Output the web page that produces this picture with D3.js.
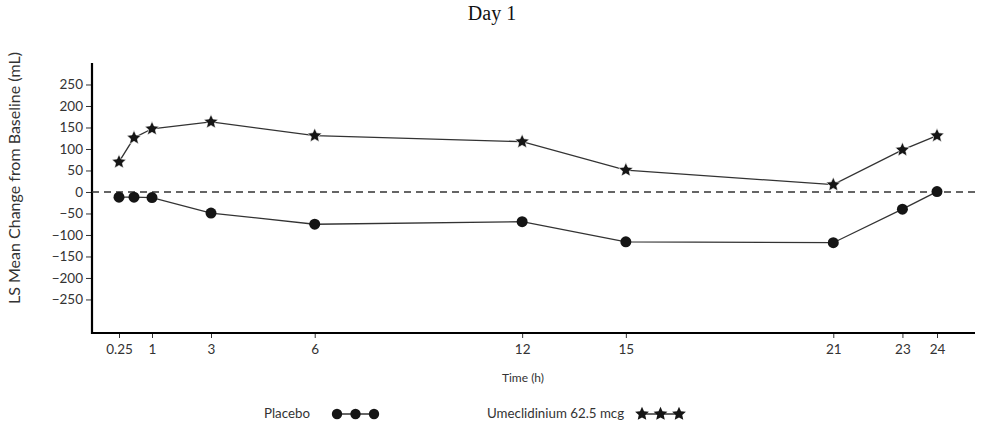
<!DOCTYPE html>
<html>
<head>
<meta charset="utf-8">
<script src="https://cdn.jsdelivr.net/npm/d3@7"></script>
<style>
  body { margin: 0; background: #fff; }
  svg { display: block; }
  .tick text { font-family: Lato, "Noto Sans", sans-serif; fill: #333; }
</style>
</head>
<body>
<svg id="chart" width="994" height="448"></svg>
<script>
'use strict';

const TIMES = [0.25, 0.5, 1, 3, 6, 12, 15, 21, 23, 24];
const PLACEBO = [-12, -12, -13, -49, -75, -69, -116, -118, -40, 1];
const UMEC = [70, 126, 147, 163, 131, 117, 51, 17, 98, 131];
const X_TICKS = [0.25, 1, 3, 6, 12, 15, 21, 23, 24];
const Y_TICKS = [250, 200, 150, 100, 50, 0, -50, -100, -150, -200, -250];

// a chunkier star than d3.symbolStar, closer to the original markers
const fatStar = {
  draw(context, size) {
    const R = Math.sqrt(size) / 2;
    const r = R * 0.47;
    for (let i = 0; i < 10; i++) {
      const a = -Math.PI / 2 + i * Math.PI / 5;
      const rad = i % 2 ? r : R;
      if (i === 0) context.moveTo(rad * Math.cos(a), rad * Math.sin(a));
      else context.lineTo(rad * Math.cos(a), rad * Math.sin(a));
    }
    context.closePath();
  }
};

const SERIES = [
  {name: 'Placebo', values: PLACEBO, symbol: d3.symbolCircle, size: 95},
  {name: 'Umeclidinium 62.5 mcg', values: UMEC, symbol: fatStar, size: 225}
];

const svg = d3.select('#chart');
const MARGINS = {top: 63, right: 19, bottom: 115, left: 92};
const WIDTH = +svg.attr('width') - MARGINS.left - MARGINS.right;
const HEIGHT = +svg.attr('height') - MARGINS.top - MARGINS.bottom;
const INK = '#333';

const g = svg.append('g')
  .attr('transform', 'translate(' + MARGINS.left + ',' + MARGINS.top + ')');

// the original axis isn't quite linear near the start
const x = d3.scaleLinear()
  .domain([0.25, 0.5, 1, 3, 24])
  .range([27, 42, 60, 119, 845]);
const y = d3.scaleLinear()
  .domain([-328, 300])
  .range([HEIGHT, 0]);

svg.append('text')
  .attr('x', 492).attr('y', 20)
  .attr('text-anchor', 'middle')
  .style('font-family', '"Liberation Serif", serif')
  .style('font-size', '20px')
  .attr('fill', '#111')
  .text('Day 1');

const yAxis = g.append('g')
  .call(d3.axisLeft(y).tickValues(Y_TICKS).tickSize(6).tickPadding(3));
yAxis.select('.domain').remove();
yAxis.selectAll('.tick line').attr('stroke', INK);
yAxis.selectAll('.tick text').style('font-size', '13.5px');

const xAxis = g.append('g')
  .attr('transform', 'translate(0,' + HEIGHT + ')')
  .call(d3.axisBottom(x).tickValues(X_TICKS).tickFormat(d => d).tickSize(5).tickPadding(6));
xAxis.select('.domain').remove();
xAxis.selectAll('.tick line').attr('stroke', INK);
xAxis.selectAll('.tick text').style('font-size', '13.5px');

g.append('line')
  .attr('x1', 0).attr('x2', 0).attr('y1', 0).attr('y2', HEIGHT + 1)
  .attr('stroke', '#000').attr('stroke-width', 2.2);
g.append('line')
  .attr('x1', -1).attr('x2', WIDTH).attr('y1', HEIGHT).attr('y2', HEIGHT)
  .attr('stroke', '#000').attr('stroke-width', 2.2);

g.append('line')
  .attr('x1', 0).attr('x2', WIDTH).attr('y1', y(0)).attr('y2', y(0))
  .attr('stroke', INK).attr('stroke-width', 1.3)
  .attr('stroke-dasharray', '7,5');

const line = d3.line()
  .x((d, i) => x(TIMES[i]))
  .y(d => y(d));

SERIES.map(s => {
  g.append('path')
   .attr('fill', 'none')
   .attr('stroke', INK)
   .attr('stroke-width', 1.3)
   .attr('d', line(s.values));
  g.selectAll(null)
   .data(s.values)
   .enter().append('path')
   .attr('transform', (d, i) => 'translate(' + x(TIMES[i]) + ',' + y(d) + ')')
   .attr('d', d3.symbol().type(s.symbol).size(s.size)())
   .attr('fill', '#151515')
   .attr('stroke', s.symbol === fatStar ? '#fff' : 'none')
   .attr('stroke-width', 0.6);
});

g.append('text')
  .attr('x', 431).attr('y', HEIGHT + 49)
  .attr('text-anchor', 'middle')
  .style('font-family', 'Lato, "Noto Sans", sans-serif')
  .style('font-size', '12px')
  .attr('fill', INK)
  .text('Time (h)');

g.append('text')
  .attr('transform', 'translate(' + (-72) + ',' + 115 + ') rotate(-90)')
  .attr('text-anchor', 'middle')
  .style('font-family', 'Lato, "Noto Sans", sans-serif')
  .style('font-size', '16px')
  .attr('fill', INK)
  .text('LS Mean Change from Baseline (mL)');

// legend
const LEGEND = [{x: 264, mx: 337}, {x: 487, mx: 642}];
SERIES.map((s, k) => {
  const lg = svg.append('g').attr('transform', 'translate(0,414)');
  lg.append('text')
    .attr('x', LEGEND[k].x).attr('y', 4)
    .style('font-family', 'Lato, "Noto Sans", sans-serif')
    .style('font-size', '13.3px')
    .attr('fill', INK)
    .text(s.name);
  const mx = [0, 1, 2].map(j => LEGEND[k].mx + j * 18.5);
  lg.append('line')
    .attr('x1', mx[0]).attr('x2', mx[2]).attr('y1', 0).attr('y2', 0)
    .attr('stroke', INK).attr('stroke-width', 1.3);
  lg.selectAll(null)
    .data(mx)
    .enter().append('path')
    .attr('transform', d => 'translate(' + d + ',0)')
    .attr('d', d3.symbol().type(s.symbol).size(s.symbol === fatStar ? 210 : 85)())
    .attr('fill', '#151515');
});
</script>
</body>
</html>
